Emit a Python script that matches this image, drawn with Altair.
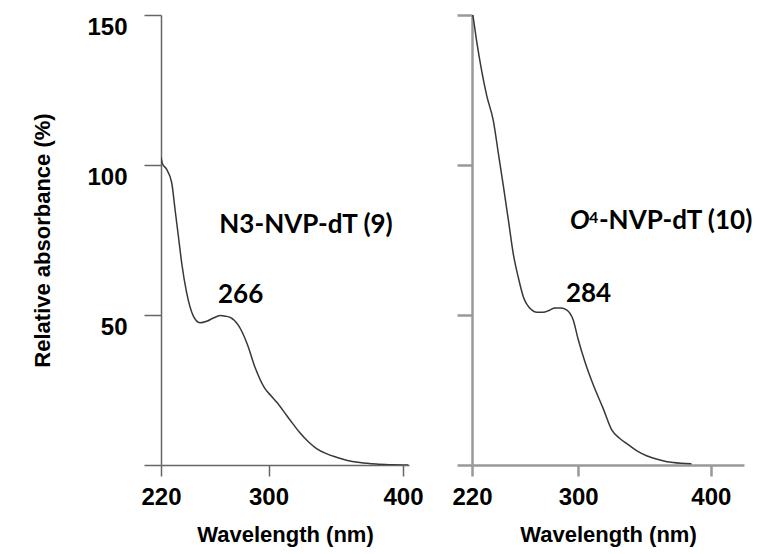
import altair as alt
import pandas as pd

# ---- data ----
left_wl = [220, 221, 224, 228, 230.5, 233, 235.5, 239, 244, 249, 254, 259, 264, 268,
           271.5, 277.5, 284, 290, 297, 302, 306, 313.5, 318, 323, 330, 336, 343,
           350.5, 358, 368, 380, 392, 404]
left_abs = [102.5, 100.5, 98.7, 94, 85, 76, 67, 57.6, 49.7, 47.4, 47.9, 49, 49.8, 49.6,
            49.2, 46.6, 40.5, 32.5, 25.7, 23.0, 21, 16.5, 13.8, 10.9, 7.6, 5.4, 3.8,
            2.6, 1.6, 0.8, 0.3, 0.1, 0]

right_wl = [220.5, 223.5, 227.3, 231.1, 236.1, 239.9, 243.6, 247.4, 251.1, 254.9, 258.6,
            265, 269, 273.7, 278, 282.5, 287, 291.3, 296.3, 300, 305.1, 311.3, 318.9,
            325.2, 331, 336.5, 344, 352, 361.6, 371.6, 385.4]
right_abs = [150.5, 141.3, 131.4, 123.1, 114.7, 103.8, 93.1, 81.7, 70.4, 62.5, 56.2,
             51.7, 50.9, 50.9, 51.5, 52.3, 52.3, 51.7, 48.3, 41.9, 34.4, 26.8, 18.8,
             11.8, 9.0, 7.2, 4.8, 3.0, 1.7, 0.8, 0.4]

x_ticks = [220, 300, 400]
y_ticks = [0, 50, 100, 150]

left_names = ["N3-NVP-dT (9)", "266"]
left_text_wl = [263.4, 262.4]
left_text_abs = [77.3, 53.9]

right_name_parts = ["O", "4", "-NVP-dT (10)"]
right_name_wl = [293.8]
right_name_abs = [78.6]
right_peak = ["284"]
right_peak_wl = [290.8]
right_peak_abs = [54.4]

x_title = "Wavelength (nm)"
y_title = "Relative absorbance (%)"

AXFONT = "Liberation Sans, Arial, sans-serif"
TXFONT = "Lato"


def make_panel(wl, ab, xmax, width, show_labels, axis_color, axis_width, ytick_size):
    df = pd.DataFrame({"wl": wl, "ab": ab})
    xenc = alt.X("wl:Q",
                 scale=alt.Scale(domain=[220, xmax], nice=False, zero=False),
                 axis=alt.Axis(values=x_ticks, title=x_title, tickSize=11,
                               labelPadding=9, titlePadding=15,
                               domainColor=axis_color, tickColor=axis_color,
                               domainWidth=axis_width, tickWidth=axis_width,
                               labelFlush=False))
    if show_labels:
        yaxis = alt.Axis(values=y_ticks, title=y_title, tickSize=ytick_size,
                         labelBaseline="top", labelPadding=17, titlePadding=32,
                         labelExpr="datum.value == 0 ? '' : datum.label",
                         domainColor=axis_color, tickColor=axis_color,
                         domainWidth=axis_width, tickWidth=axis_width)
    else:
        yaxis = alt.Axis(values=y_ticks, title="", tickSize=ytick_size, labels=False,
                         domainColor=axis_color, tickColor=axis_color,
                         domainWidth=axis_width, tickWidth=axis_width)
    yenc = alt.Y("ab:Q", scale=alt.Scale(domain=[0, 150], nice=False), axis=yaxis)
    line = alt.Chart(df).mark_line(color="#383838", strokeWidth=1.5, clip=True,
                                   interpolate="monotone").encode(x=xenc, y=yenc)
    return line, width


left_line, lw = make_panel(left_wl, left_abs, 404.5, 248, True, "#666666", 1.5, 17)
left_txt_df = pd.DataFrame({"wl": left_text_wl, "ab": left_text_abs, "t": left_names})
left_txt = alt.Chart(left_txt_df).mark_text(
    font=TXFONT, fontWeight="bold", fontSize=26, align="left", baseline="alphabetic",
    color="black").encode(x="wl:Q", y="ab:Q", text="t:N")
left = alt.layer(left_line, left_txt).properties(width=lw, height=450)

right_line, rw = make_panel(right_wl, right_abs, 425, 272, False, "#999999", 2.5, 15)
name_df = pd.DataFrame({"wl": right_name_wl, "ab": right_name_abs})
o_txt = alt.Chart(name_df).mark_text(
    font=TXFONT, fontWeight="bold", fontStyle="italic", fontSize=26, align="left",
    baseline="alphabetic", color="black", text=right_name_parts[0]).encode(
    x="wl:Q", y="ab:Q")
sup_txt = alt.Chart(name_df).mark_text(
    font=TXFONT, fontWeight="bold", fontSize=16, align="left", baseline="alphabetic",
    color="black", dx=19, dy=-6, text=right_name_parts[1]).encode(x="wl:Q", y="ab:Q")
rest_txt = alt.Chart(name_df).mark_text(
    font=TXFONT, fontWeight="bold", fontSize=26, align="left", baseline="alphabetic",
    color="black", dx=29, text=right_name_parts[2]).encode(x="wl:Q", y="ab:Q")
peak_df = pd.DataFrame({"wl": right_peak_wl, "ab": right_peak_abs, "t": right_peak})
peak_txt = alt.Chart(peak_df).mark_text(
    font=TXFONT, fontWeight="bold", fontSize=26, align="left", baseline="alphabetic",
    color="black").encode(x="wl:Q", y="ab:Q", text="t:N")
right = alt.layer(right_line, o_txt, sup_txt, rest_txt, peak_txt).properties(
    width=rw, height=450)

chart = alt.hconcat(left, right, spacing=28).properties(
    padding={"left": 23, "top": 5, "right": 5, "bottom": 5}
).configure_view(stroke=None).configure_axis(
    grid=False, labelFont=AXFONT, labelFontSize=24, labelFontWeight="bold",
    labelColor="black", titleFont=AXFONT, titleFontSize=22, titleFontWeight="bold",
    titleColor="black")

chart.save("out.html", embed_options={"renderer": "svg", "actions": False})
